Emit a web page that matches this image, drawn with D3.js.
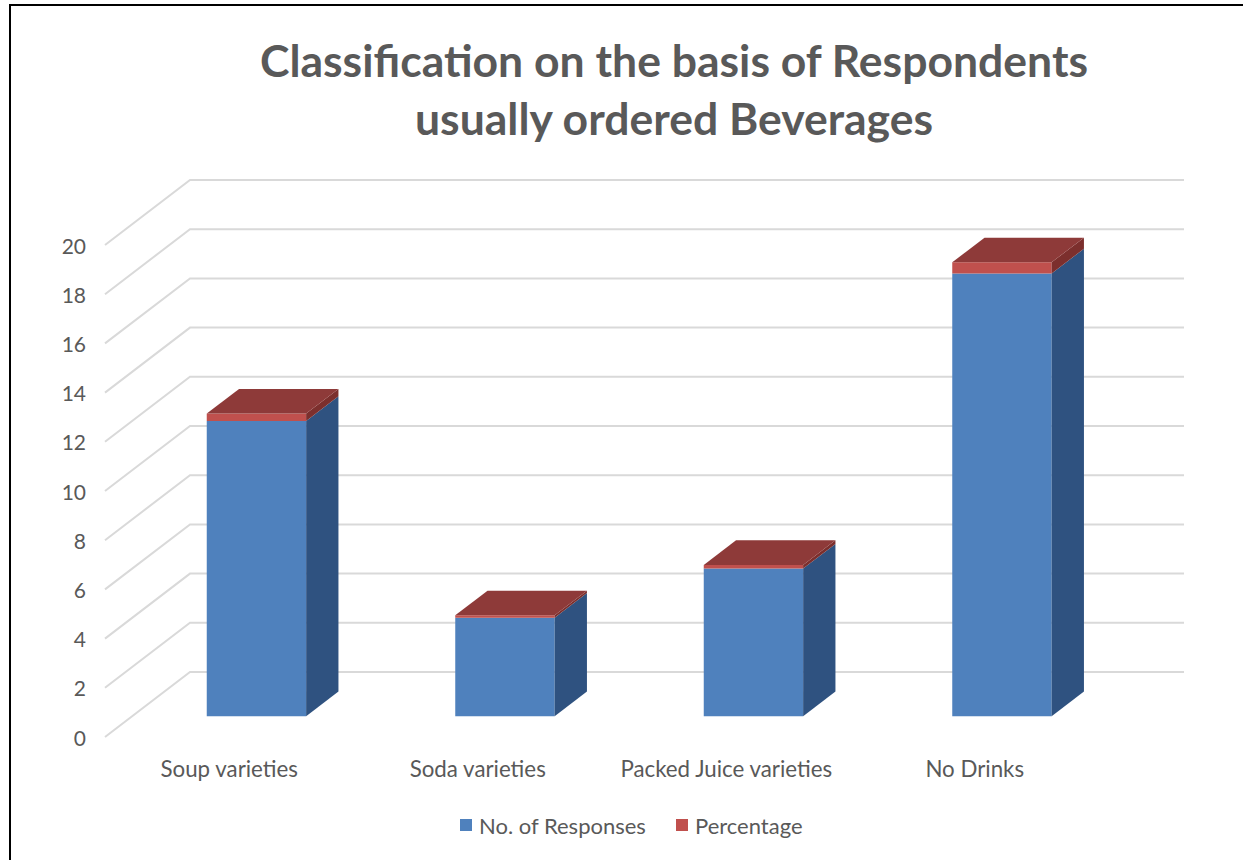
<!DOCTYPE html>
<html>
<head>
<meta charset="utf-8">
<script src="https://cdn.jsdelivr.net/npm/d3@7/dist/d3.min.js"></script>
<style>
  html, body { margin: 0; padding: 0; background: #fff; }
  svg { display: block; }
  text { font-family: Lato, "Open Sans", sans-serif; fill: #595959; }
</style>
</head>
<body>
<svg id="chart" width="1243" height="860"></svg>
<script>
// Survey data: beverages usually ordered by respondents
const categories = ["Soup varieties", "Soda varieties", "Packed Juice varieties", "No Drinks"];
const responses = [12, 4, 6, 18];
const percentage = [0.30, 0.10, 0.15, 0.45];
const seriesNames = ["No. of Responses", "Percentage"];
const yTicks = [0, 2, 4, 6, 8, 10, 12, 14, 16, 18, 20];
const titleLines = ["Classification on the basis of Respondents", "usually ordered Beverages"];

const svg = d3.select("#chart");
const W = 1243, H = 860;

// frame
svg.append("rect").attr("x", 10).attr("y", 5).attr("width", W + 20).attr("height", H + 20)
  .attr("fill", "#fff").attr("stroke", "#000").attr("stroke-width", 2);

// 3D oblique geometry
const floorLeft = 105, floorRight = 1099;
const depthDX = 85, depthDY = -65;
const barFront = 0.32, barBack = 0.70;

const x = d3.scaleBand().domain(categories).range([floorLeft, floorRight])
  .paddingInner(0.6).paddingOuter(0.3);
const y = d3.scaleLinear().domain([0, 20]).range([737, 245]);

const proj = (px, v, t) => [px + t * depthDX, y(v) + t * depthDY];

// walls: gridlines on side wall and back wall
const grid = svg.append("g");
yTicks.forEach(v => {
  const a = proj(floorLeft, v, 0), b = proj(floorLeft, v, 1), c = proj(floorRight, v, 1);
  grid.append("polyline")
    .attr("points", [a, b, c].map(p => p.join(",")).join(" "))
    .attr("fill", "none").attr("stroke", "#d9d9d9").attr("stroke-width", 2);
});

// value axis labels
svg.append("g").selectAll("text").data(yTicks).join("text")
  .attr("x", 86).attr("y", d => y(d)).attr("text-anchor", "end")
  .attr("dominant-baseline", "central").style("font-size", "21px").text(d => d);

// stacked 3D columns
const colors = {
  blue: { front: "#4f81bd", side: "#2f5280", top: "#3d6699" },
  red: { front: "#c0504d", side: "#7c2f2d", top: "#8e3a39" }
};
const stacks = categories.map((c, i) => ({
  cat: c,
  segs: [
    { v0: 0, v1: responses[i], col: colors.blue },
    { v0: responses[i], v1: responses[i] + percentage[i], col: colors.red }
  ]
}));

const bars = svg.append("g");
const poly = pts => pts.map(p => p.join(",")).join(" ");
stacks.forEach(s => {
  const x0 = x(s.cat), x1 = x0 + x.bandwidth();
  s.segs.forEach((seg, k) => {
    const g = bars.append("g");
    // front face
    const f = [proj(x0, seg.v0, barFront), proj(x1, seg.v0, barFront), proj(x1, seg.v1, barFront), proj(x0, seg.v1, barFront)];
    g.append("polygon").attr("points", poly(f)).attr("fill", seg.col.front);
    // right side face
    const sd = [proj(x1, seg.v0, barFront), proj(x1, seg.v0, barBack), proj(x1, seg.v1, barBack), proj(x1, seg.v1, barFront)];
    g.append("polygon").attr("points", poly(sd)).attr("fill", seg.col.side);
    // top face of the stack
    if (k === s.segs.length - 1) {
      const tp = [proj(x0, seg.v1, barFront), proj(x1, seg.v1, barFront), proj(x1, seg.v1, barBack), proj(x0, seg.v1, barBack)];
      g.append("polygon").attr("points", poly(tp)).attr("fill", seg.col.top);
    }
  });
});

// category labels
svg.append("g").selectAll("text").data(categories).join("text")
  .attr("x", d => x(d) + x.bandwidth() / 2).attr("y", 768)
  .attr("text-anchor", "middle").attr("dominant-baseline", "central")
  .style("font-size", "22.3px").text(d => d);

// title
const title = svg.append("g");
titleLines.forEach((t, i) => {
  title.append("text").attr("x", 674).attr("y", [59, 117][i])
    .attr("text-anchor", "middle").attr("dominant-baseline", "central")
    .style("font-size", "44.5px").style("font-weight", "bold").text(t);
});

// legend
const legend = svg.append("g");
const legendItems = [
  { name: seriesNames[0], color: colors.blue.front, x: 460 },
  { name: seriesNames[1], color: colors.red.front, x: 676 }
];
legendItems.forEach(it => {
  legend.append("rect").attr("x", it.x).attr("y", 819).attr("width", 12).attr("height", 12).attr("fill", it.color);
  legend.append("text").attr("x", it.x + 19).attr("y", 825).attr("dominant-baseline", "central")
    .style("font-size", "22px").text(it.name);
});
</script>
</body>
</html>
